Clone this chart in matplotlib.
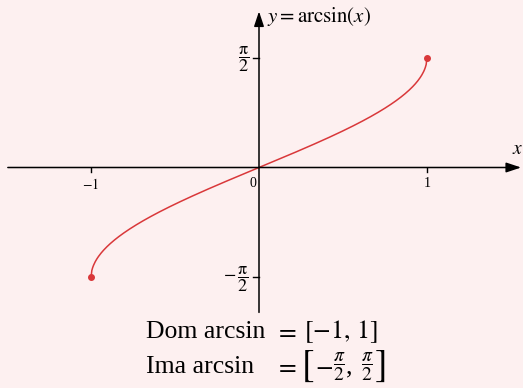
import numpy as np
import matplotlib
matplotlib.use("Agg")
import matplotlib.pyplot as plt

plt.rcParams["font.family"] = "serif"
plt.rcParams["font.serif"] = ["Liberation Serif", "DejaVu Serif"]
plt.rcParams["mathtext.fontset"] = "stix"

bg = "#fdf0f0"
red = "#d9383a"

# domain of arcsin and the ticks on each axis
domain = [-1.0, 1.0]
x_ticks = [-1, 1]
x_tick_labels = [r"$-1$", "1"]
y_ticks = [np.pi / 2, -np.pi / 2]
y_tick_labels = [r"$\dfrac{\mathrm{\pi}}{2}$", r"$-\,\dfrac{\mathrm{\pi}}{2}$"]

X0, Y0, SX, SY = 259, 167.5, 168, 70  # origin in pixels, pixels per unit


def px(x, y):
    # pixel position (from top-left) to data coordinates
    return (x - X0) / SX, (Y0 - y) / SY


def main():
    fig = plt.figure(figsize=(5.23, 3.88), dpi=100, facecolor=bg)
    ax = fig.add_axes([0, 0, 1, 1])
    ax.set_facecolor(bg)
    ax.axis("off")
    ax.set_xlim(-X0 / SX, (523 - X0) / SX)
    ax.set_ylim(-(388 - Y0) / SY, Y0 / SY)

    # axes with arrowheads
    arrow = dict(arrowstyle="-|>,head_length=0.9,head_width=0.3", color="black", lw=1.1,
                 shrinkA=0, shrinkB=0)
    ax.annotate("", xy=(1.56, 0), xytext=(-1.495, 0), arrowprops=arrow)
    ax.annotate("", xy=(0, 2.23), xytext=(0, -2.07), arrowprops=arrow)

    for t, lab in zip(x_ticks, x_tick_labels):
        ax.plot([t, t], [0, -0.07], color="black", lw=1)
        ax.text(t, -0.13, lab, ha="center", va="top", fontsize=10)
    ax.text(-0.035, -0.13, "0", ha="center", va="top", fontsize=10)

    for t, lab in zip(y_ticks, y_tick_labels):
        ax.plot([-0.035, 0], [t, t], color="black", lw=1)
        ax.text(-0.06, t - 0.03, lab, ha="right", va="center", fontsize=13)

    ax.text(1.54, 0.13, r"$x$", ha="center", va="bottom", fontsize=14)
    ax.text(0.05, 2.15, r"$y = \mathrm{arcsin}(x)$", ha="left", va="center", fontsize=15)

    xs = np.linspace(domain[0], domain[1], 400)
    ax.plot(xs, np.arcsin(xs), color=red, lw=1.1)
    ax.plot(domain, np.arcsin(domain), "o", color=red, ms=4)

    # domain and range, laid out in pixel columns
    fs = 18.5
    ax.text(*px(146, 338), "Dom arcsin", ha="left", va="baseline", fontsize=fs)
    ax.text(*px(275, 338), r"$=$", ha="left", va="baseline", fontsize=fs)
    ax.text(*px(304, 338), r"$[-1,\, 1]$", ha="left", va="baseline", fontsize=fs)

    ax.text(*px(146, 373), "Ima arcsin", ha="left", va="baseline", fontsize=fs)
    ax.text(*px(275, 373), r"$=$", ha="left", va="baseline", fontsize=fs)
    ax.text(*px(301, 366), r"$[$", ha="left", va="center", fontsize=27)
    ax.text(*px(315, 373), r"$-$", ha="left", va="baseline", fontsize=fs)
    ax.text(*px(333, 367), r"$\dfrac{\pi}{2}$", ha="left", va="center", fontsize=14)
    ax.text(*px(346, 373), ",", ha="left", va="baseline", fontsize=fs)
    ax.text(*px(361, 367), r"$\dfrac{\pi}{2}$", ha="left", va="center", fontsize=14)
    ax.text(*px(374, 366), r"$]$", ha="left", va="center", fontsize=27)

    fig.savefig("out.png", dpi=100, facecolor=bg)


if __name__ == "__main__":
    main()
